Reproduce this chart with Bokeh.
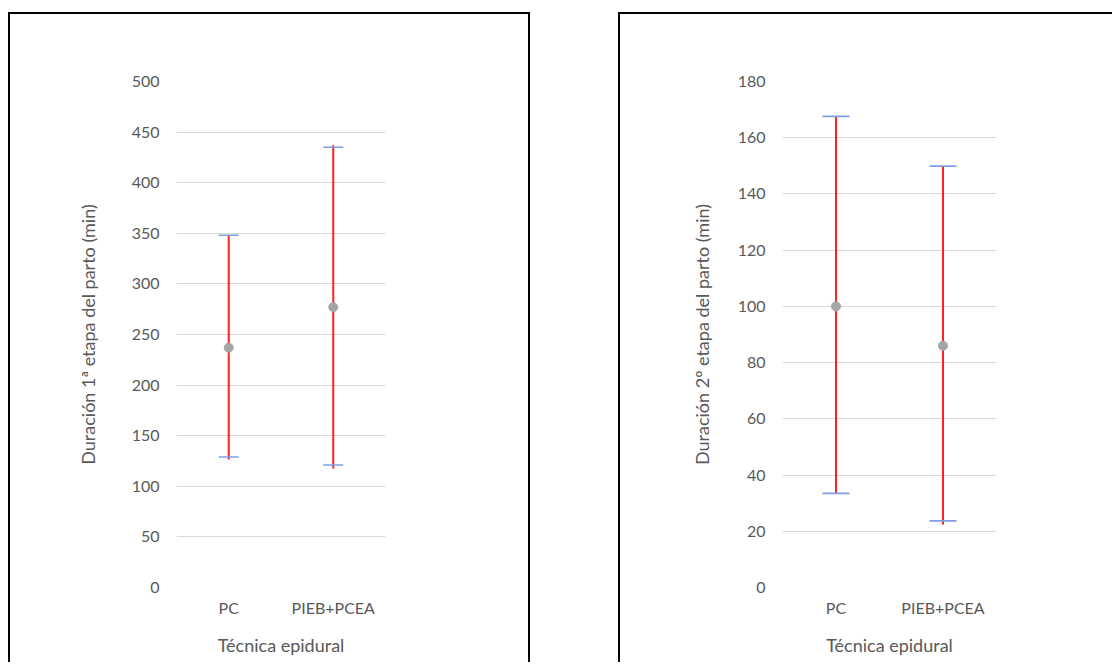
from bokeh.plotting import figure
from bokeh.layouts import row
from bokeh.models import Range1d, FactorRange, FixedTicker, ColumnDataSource
from bokeh.embed import file_html
from bokeh.resources import INLINE

categories = ["PC", "PIEB+PCEA"]

# Panel 1: Duración 1ª etapa
mean1 = [237, 277]
cap_low1 = [129, 121]
cap_high1 = [348, 435]
line_low1 = [126.5, 117.6]
line_high1 = [348, 437]
ticks1 = list(range(0, 501, 50))

# Panel 2: Duración 2º etapa
mean2 = [100, 86]
cap_low2 = [33.5, 23.7]
cap_high2 = [167.6, 149.9]
line_low2 = [33.5, 22.4]
line_high2 = [167.6, 149.9]
ticks2 = list(range(0, 181, 20))

FONT = "Lato"
GREY = "#595959"


def make_panel(ylabel, ymax, ticks, mean, cl, ch, ll, lh, fw, bl, br, capsize, title_standoff, styles):
    p = figure(x_range=FactorRange(factors=categories), y_range=Range1d(0, ymax),
               frame_width=fw, frame_height=504,
               min_border_left=bl, min_border_right=br, min_border_top=67, min_border_bottom=77,
               output_backend="svg", toolbar_location=None, styles=styles)
    p.outline_line_color = None
    p.xgrid.grid_line_color = None
    p.ygrid.grid_line_color = "#d9d9d9"
    p.ygrid.grid_line_width = 1
    p.yaxis.ticker = FixedTicker(ticks=ticks)
    for ax in (p.xaxis[0], p.yaxis[0]):
        ax.axis_line_color = None
        ax.major_tick_line_color = None
        ax.minor_tick_line_color = None
        ax.major_label_text_font = FONT
        ax.major_label_text_font_size = "16px"
        ax.major_label_text_color = GREY
        ax.axis_label_text_font = FONT
        ax.axis_label_text_font_size = "18px"
        ax.axis_label_text_color = GREY
        ax.axis_label_text_font_style = "normal"
    p.yaxis.axis_label = ylabel
    p.xaxis.axis_label = "Técnica epidural"
    p.yaxis.major_label_standoff = 11
    p.yaxis.axis_label_standoff = title_standoff
    p.xaxis.major_label_standoff = 4
    p.xaxis.axis_label_standoff = 14

    src = ColumnDataSource(dict(x=categories, mean=mean, cl=cl, ch=ch, ll=ll, lh=lh))
    p.segment(x0="x", y0="ll", x1="x", y1="lh", source=src, line_color="#ff2020", line_width=2)
    p.scatter(x="x", y="cl", source=src, marker="dash", size=capsize, line_color="#7f9ee0", line_width=1.6)
    p.scatter(x="x", y="ch", source=src, marker="dash", size=capsize, line_color="#7f9ee0", line_width=1.6)
    p.scatter(x="x", y="mean", source=src, marker="circle", size=9, fill_color="#a5a5a5", line_color="#a5a5a5")
    return p


st1 = {"border-left": "2px solid black", "border-top": "2px solid black",
       "border-right": "2px solid black", "margin-top": "12px", "margin-left": "8px",
       "box-sizing": "border-box"}
st2 = {"border-left": "2px solid black", "border-top": "2px solid black",
       "margin-top": "12px", "box-sizing": "border-box"}

p1 = make_panel("Duración 1ª etapa del parto (min)", 500, ticks1, mean1, cap_low1, cap_high1,
                line_low1, line_high1, 205, 166, 147, 20, 30, st1)
p2 = make_panel("Duración 2º etapa del parto (min)", 180, ticks2, mean2, cap_low2, cap_high2,
                line_low2, line_high2, 212, 162, 118, 27, 22, st2)

layout = row(p1, p2, spacing=88)
open("out.html", "w").write(file_html(layout, INLINE))
